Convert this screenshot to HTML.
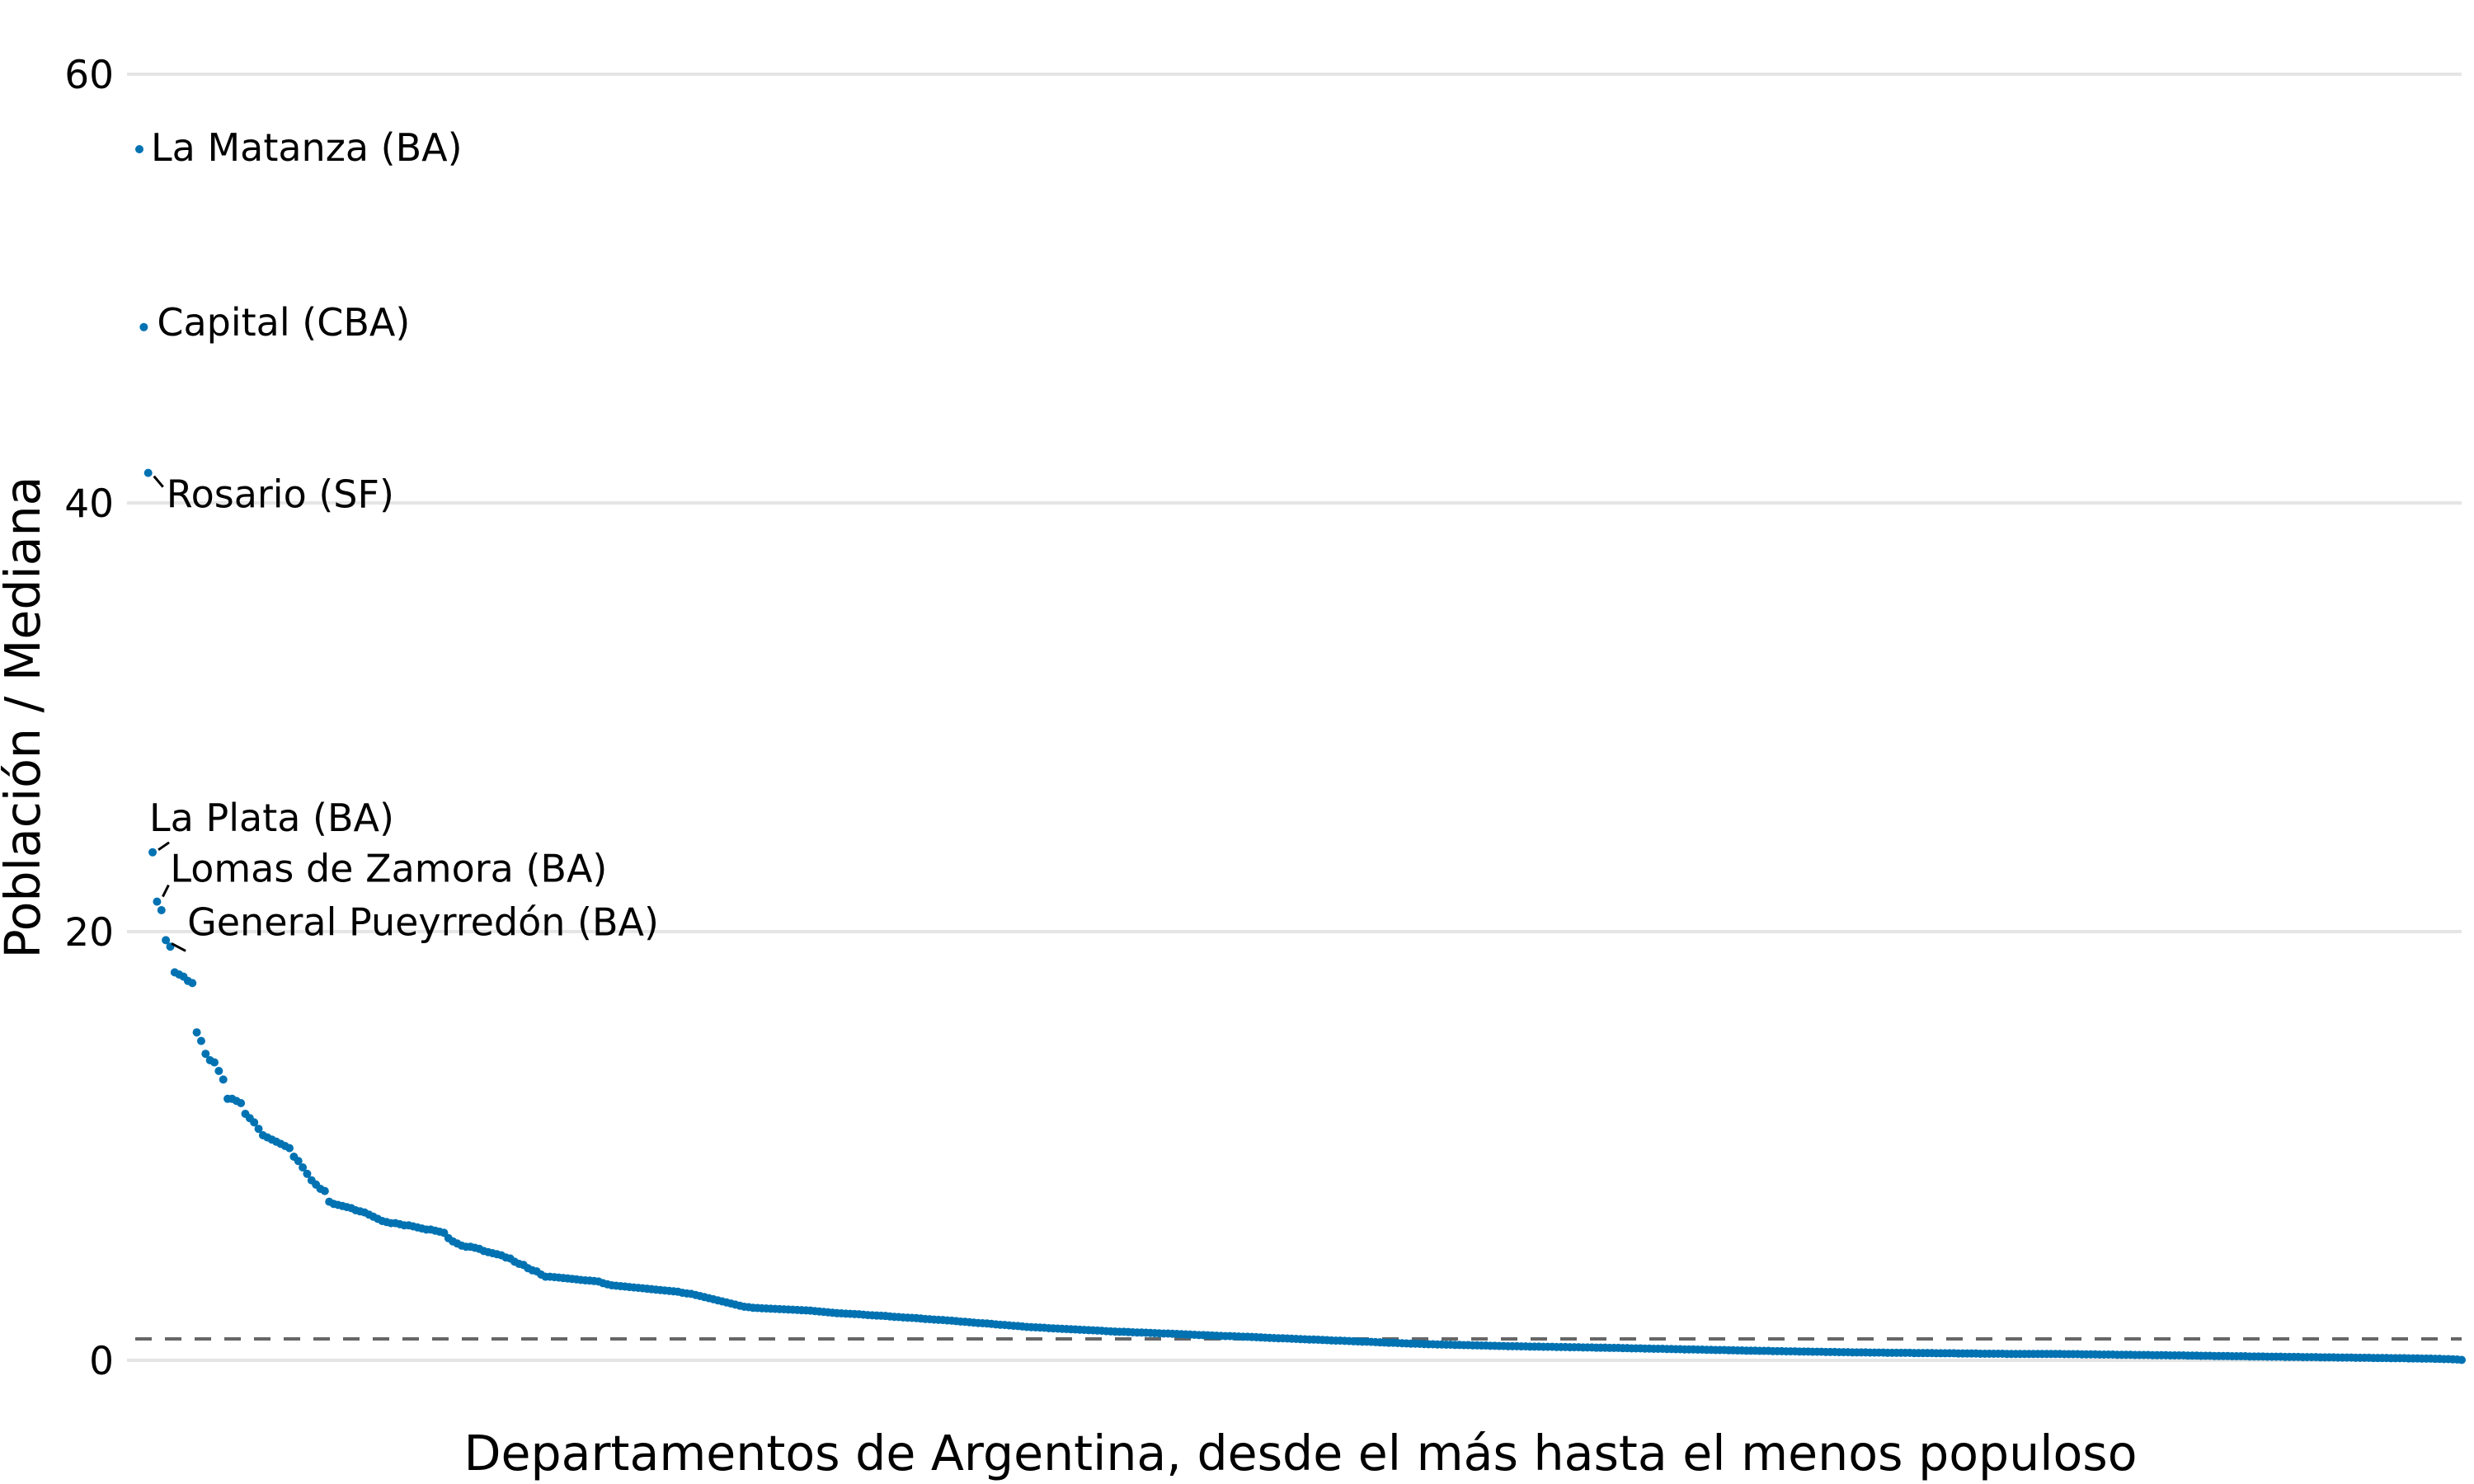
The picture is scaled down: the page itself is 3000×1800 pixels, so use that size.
<!DOCTYPE html>
<html><head><meta charset="utf-8"><style>
html,body{margin:0;padding:0;background:#fff;}
svg{display:block;font-family:"DejaVu Sans","Liberation Sans",sans-serif;}
</style></head><body>
<svg id="chart" width="3000" height="1800" viewBox="0 0 3000 1800" xmlns="http://www.w3.org/2000/svg">
<g id="grid"></g>
<g id="yticks"></g>
<g id="median"></g>
<g id="points"></g>
<g id="annots"></g>
<text x="1577" y="1783" font-size="58.5" text-anchor="middle" fill="#000">Departamentos de Argentina, desde el más hasta el menos populoso</text>
<text transform="translate(48,870) rotate(-90)" font-size="58.5" text-anchor="middle" fill="#000">Población / Mediana</text>
</svg>
<script>
const yTicks = [0, 20, 40, 60];
const medianValue = [1];
const values = [
56.5,48.2,41.4,23.7,21.4,21.0,19.6,19.3,18.1,18.0,17.9,17.7,17.6,
15.3,14.9,14.3,14.0,13.9,13.5,13.1,12.2,12.2,12.1,12.0,11.5,11.3,11.1,10.8,10.5,10.4,10.3,10.2,10.1,10.0,9.9,9.5,9.3,9.0,8.7,8.4,8.2,8.0,7.9,7.4,
7.3,7.25,7.2,7.15,7.1,7.0,6.95,6.9,6.8,6.7,6.6,6.5,6.45,6.4,6.4,6.35,6.3,6.3,6.25,6.2,6.15,6.1,6.1,6.05,6.0,5.95,5.7,5.55,5.45,5.35,
5.3,5.3,5.25,5.2,5.1,5.05,5.0,4.95,4.9,4.8,4.75,4.6,4.5,4.45,4.3,4.2,4.15,4.0,3.9,
3.9,3.88,3.86,3.84,3.82,3.8,3.78,3.75,3.73,3.72,3.7,3.68,3.6,3.55,3.5,3.48,3.46,3.44,3.42,3.4,
3.38,3.36,3.34,3.32,3.3,3.28,3.26,3.24,3.22,3.2,3.15,3.12,3.1,3.05,3.0,2.95,2.9,2.85,2.8,2.75,2.7,2.65,2.6,2.55,2.5,2.48,2.45,
2.44,2.43,2.42,2.41,2.4,2.39,2.38,2.37,2.36,2.35,2.34,2.33,2.32,2.3,2.28,2.26,2.24,2.22,2.2,2.19,2.18,2.17,2.16,2.15,2.13,2.11,2.1,
2.09,2.08,2.07,2.05,2.03,2.02,2.0,1.99,1.98,1.97,1.95,1.93,1.92,1.9,1.89,1.88,1.86,1.85,
1.83,1.81,1.8,1.78,1.76,1.74,1.73,1.72,1.7,1.68,1.66,1.65,1.63,1.61,1.6,1.58,1.56,1.55,
1.54,1.53,1.52,1.5,1.49,1.48,1.47,1.46,1.45,1.44,1.43,1.42,1.41,1.4,1.39,1.38,1.36,1.35,
1.34,1.33,1.33,1.32,1.31,1.3,1.3,1.29,1.28,1.27,1.26,1.25,1.25,1.24,1.23,1.22,1.21,1.2,
1.19,1.18,1.18,1.17,1.16,1.15,1.14,1.13,1.13,1.12,1.11,1.1,1.1,1.09,1.08,1.07,1.06,1.05,
1.04,1.03,1.03,1.02,1.01,1.0,0.99,0.98,0.97,0.97,0.96,0.95,0.94,0.93,0.92,0.92,0.91,0.9,
0.89,0.88,0.87,0.87,0.86,0.85,0.84,0.83,0.82,0.82,0.81,0.8,0.79,0.78,0.78,0.77,0.76,0.75,
0.75,0.74,0.74,0.73,0.73,0.72,0.72,0.71,0.71,0.7,0.7,0.69,0.69,0.68,0.68,0.67,0.67,0.66,0.66,0.66,0.65,0.65,0.64,0.64,0.64,0.63,0.63,0.63,0.62,0.62,0.62,0.61,0.61,0.61,0.6,0.6,
0.6,0.59,0.59,0.59,0.58,0.58,0.58,0.57,0.57,0.56,0.56,0.56,0.55,0.55,0.54,0.54,0.54,0.53,0.53,0.52,0.52,0.51,0.51,0.51,0.5,0.5,0.49,0.49,0.48,0.48,0.48,0.47,0.47,0.46,0.46,0.45,
0.45,0.45,0.44,0.44,0.44,0.43,0.43,0.43,0.42,0.42,0.42,0.41,0.41,0.41,0.4,0.4,0.4,0.39,0.39,0.39,0.38,0.38,0.38,0.37,0.37,0.37,0.37,0.36,0.36,0.36,0.36,0.35,0.35,0.35,0.35,0.35,
0.35,0.34,0.34,0.34,0.34,0.34,0.33,0.33,0.33,0.33,0.33,0.32,0.32,0.32,0.32,0.32,0.31,0.31,0.31,0.31,0.31,0.31,0.3,0.3,0.3,0.3,0.3,0.3,0.3,0.3,0.3,0.3,0.3,0.3,0.3,
0.29,0.29,0.29,0.29,0.28,0.28,0.28,0.28,0.27,0.27,0.27,0.27,0.26,0.26,0.26,0.26,0.25,0.25,0.25,0.25,0.24,0.24,0.24,0.24,0.23,0.23,0.23,0.23,0.22,0.22,0.22,0.21,0.21,0.21,0.2,0.2,
0.2,0.2,0.19,0.19,0.19,0.19,0.18,0.18,0.18,0.18,0.17,0.17,0.17,0.17,0.16,0.16,0.16,0.16,0.15,0.15,0.15,0.15,0.14,0.14,0.14,0.14,0.13,0.13,0.13,0.13,0.12,0.12,0.12,0.12,0.11,0.11,0.11,0.11,0.1,0.1,0.1,0.1,0.09,0.09,0.09,0.08,0.08,0.08,0.07,0.07,0.06,0.06,0.05,0.04,0.02
];
const labelNames = ["La Matanza (BA)","Capital (CBA)","Rosario (SF)","La Plata (BA)","Lomas de Zamora (BA)","General Pueyrredón (BA)"];
const labelIndex = [0,1,2,3,4,6];

const NS = "http://www.w3.org/2000/svg";
const X0 = 169, X1 = 2985, Y0 = 1650, PX_PER_UNIT = 26;
function xScale(i){ return X0 + i * (X1 - X0) / (values.length - 1); }
function yScale(v){ return Y0 - v * PX_PER_UNIT; }
function mk(tag, attrs, parent){
  const e = document.createElementNS(NS, tag);
  for (const k in attrs) e.setAttribute(k, attrs[k]);
  parent.appendChild(e); return e;
}
const grid = document.getElementById('grid');
const yt = document.getElementById('yticks');
yTicks.forEach(t => {
  const l = mk('line', {x1:154, x2:2985, y1:yScale(t), y2:yScale(t), stroke:'#e5e5e5', 'stroke-width':4}, grid);
  
  
  const tx = mk('text', {x:138, y:yScale(t)+17, 'font-size':47, 'text-anchor':'end', fill:'#000'}, yt);
  tx.textContent = t;
  
  
});
const med = document.getElementById('median');
medianValue.forEach(m => {
  const l = mk('line', {x1:164, x2:2985, y1:yScale(m), y2:yScale(m), stroke:'#666', 'stroke-width':4, 'stroke-dasharray':'20 16'}, med);
  
  
});
const pts = document.getElementById('points');
values.forEach((v, i) => {
  const c = mk('circle', {cx:xScale(i), cy:yScale(v), r:5, fill:'#0072B2'}, pts);
  
  
});
const an = document.getElementById('annots');
const offs = [[14,14,false],[16,10,false],[22,42,true],[-4,-26,true],[16,-24,true],[26,-6,true]];
labelNames.forEach((name, k) => {
  const i = labelIndex[k];
  const px = xScale(i), py = yScale(values[i]);
  const o = offs[k];
  const tx = mk('text', {x:px+o[0], y:py+o[1], 'font-size':46, fill:'#000'}, an);
  tx.textContent = name;
  
  
  if (o[2]) {
    let x2, y2;
    if (k === 2) { x2 = px+18; y2 = py+17; }
    else if (k === 3) { x2 = px+20; y2 = py-12; }
    else if (k === 4) { x2 = px+14; y2 = py-20; }
    else { x2 = px+24; y2 = py+13; }
    const l = mk('line', {x1:px+7, y1:py+(k===3?-3:(k===4?-6:4)), x2:x2, y2:y2, stroke:'#000', 'stroke-width':3}, an);
    
    
  }
});
</script>
</body></html>
